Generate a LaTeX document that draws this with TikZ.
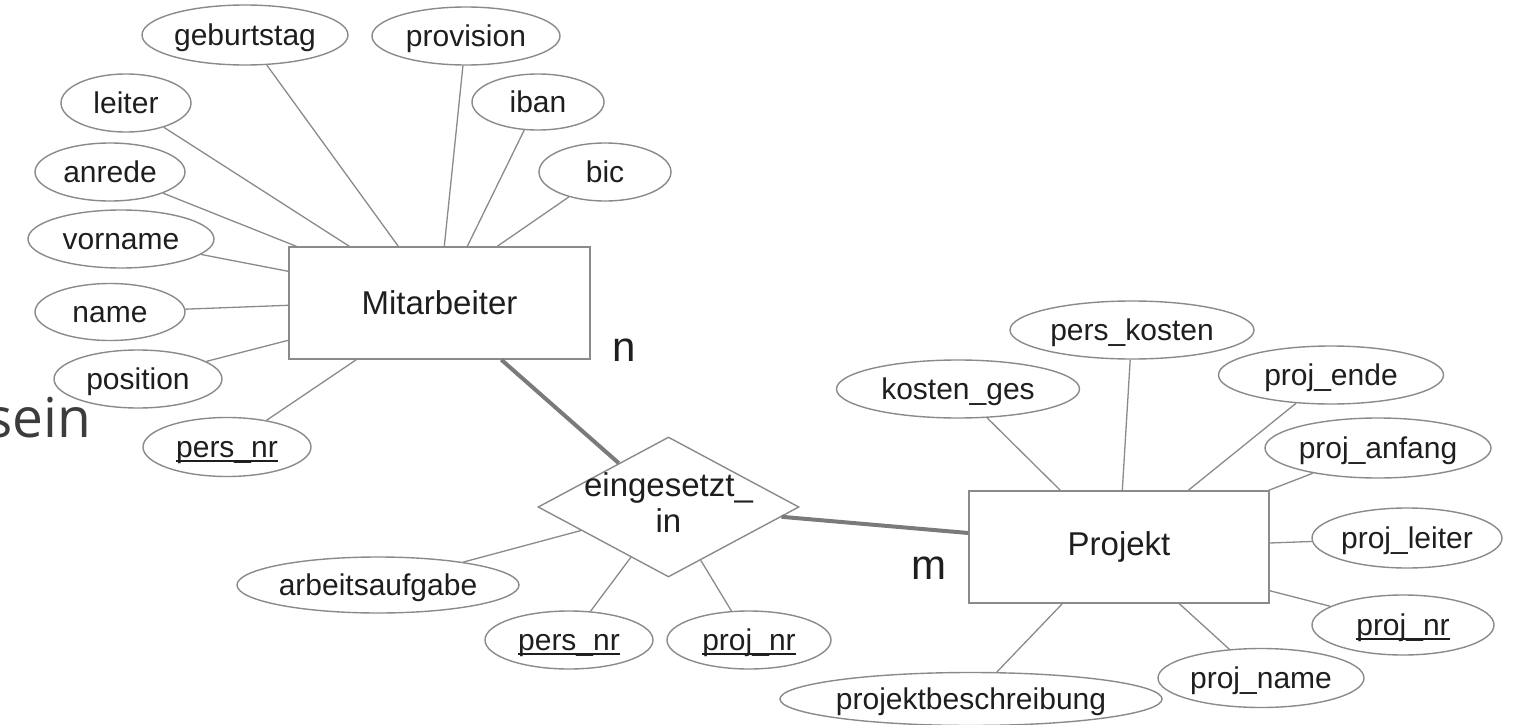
\documentclass[tikz,border=0pt]{standalone}
\usepackage{fontspec}
\setmainfont{Liberation Sans}
\newfontfamily\seinfont{Open Sans}
\usetikzlibrary{shapes.geometric,calc}
\definecolor{edgegray}{HTML}{8A8A8A}
\definecolor{heavygray}{HTML}{7A7A7A}
\definecolor{txt}{HTML}{1E1E1E}
\definecolor{seingray}{HTML}{3C3C3C}
\newcommand{\keyattr}[1]{\setbox0=\hbox{#1}\rlap{\rule[-0.15em]{\wd0}{1.4pt}}\box0}
\tikzset{
  attr/.style={ellipse, draw=edgegray, line width=1.4pt, inner sep=0pt, text=txt,
    text height=26pt, text depth=5.5pt, font=\fontsize{30}{36}\selectfont},
  esize/.style 2 args={minimum width=#1pt, minimum height=#2pt},
  ent/.style={rectangle, draw=edgegray, line width=1.4pt, inner sep=0pt, text=txt,
    minimum height=112pt, font=\fontsize{33}{40}\selectfont},
  rel/.style={diamond, draw=edgegray, line width=1.4pt, inner sep=0pt, text=txt,
    minimum width=261pt, minimum height=140pt, font=\fontsize{33}{36}\selectfont},
  conn/.style={draw=edgegray, line width=1.3pt},
  heavy/.style={draw=heavygray, line width=4pt},
  card/.style={text=txt, inner sep=0pt, font=\fontsize{42}{50}\selectfont}
}
\begin{document}
\begin{tikzpicture}[x=1pt,y=-1pt]
\useasboundingbox (0,0) rectangle (1516,725);

% side text (cut at the left edge, as in the reference)
\node[anchor=base east, inner sep=0pt, text=seingray, font=\seinfont\fontsize{55}{66}\selectfont] (sein) at (91,437) {sein};

% entities and relationship
\node[ent, minimum width=301pt] (M) at (439.5,303) {Mitarbeiter};
\node[ent, minimum width=300pt] (P) at (1119,547) {Projekt};
\node[rel] (D) at (668.5,507) {\makebox[0pt]{\begin{tabular}{@{}c@{}}eingesetzt\_\\in\end{tabular}}};

% cardinalities
\node[card] (n) at (624,350) {n};
\node[card] (m) at (929,568) {m};

% Mitarbeiter attributes
\node[attr, esize={206}{60}] (geb) at (245,35) {geburtstag};
\node[attr, esize={188}{58}] (prov) at (466,36) {provision};
\node[attr, esize={130}{58}] (leiter) at (126,103) {leiter};
\node[attr, esize={132}{56}] (iban) at (538,102) {iban};
\node[attr, esize={150}{58}] (anrede) at (110,172) {anrede};
\node[attr, esize={132}{58}] (bic) at (605,172) {bic};
\node[attr, esize={186}{58}] (vorname) at (121,239) {vorname};
\node[attr, esize={150}{57}] (name) at (110,312) {name};
\node[attr, esize={168}{58}] (position) at (138,379) {position};
\node[attr, esize={168}{59}] (persA) at (227,447) {\keyattr{pers\_nr}};

% relationship attributes
\node[attr, esize={282}{56}] (arb) at (378,585) {arbeitsaufgabe};
\node[attr, esize={168}{58}] (persB) at (569,640) {\keyattr{pers\_nr}};
\node[attr, esize={164}{58}] (projB) at (749,640) {\keyattr{proj\_nr}};

% Projekt attributes
\node[attr, esize={244}{58}] (pk) at (1132,330) {pers\_kosten};
\node[attr, esize={243}{58}] (kg) at (958,389) {kosten\_ges};
\node[attr, esize={225}{58}] (pe) at (1331,375) {proj\_ende};
\node[attr, esize={226}{60}] (pa) at (1378,448) {proj\_anfang};
\node[attr, esize={190}{60}] (pl) at (1407,538) {proj\_leiter};
\node[attr, esize={182}{60}] (pn) at (1403,625) {\keyattr{proj\_nr}};
\node[attr, esize={206}{59}] (pname) at (1261,678) {proj\_name};
\node[attr, esize={378}{53}] (pb) at (971,699) {projektbeschreibung};

% Mitarbeiter connectors
\draw[conn] (anrede) -- ([xshift=8pt]M.north west);
\draw[conn] (leiter) -- ([xshift=61pt]M.north west);
\draw[conn] (geb) -- ([xshift=110pt]M.north west);
\draw[conn] (prov) -- ([xshift=156pt]M.north west);
\draw[conn] (iban) -- ([xshift=179pt]M.north west);
\draw[conn] (bic) -- ([xshift=209pt]M.north west);
\draw[conn] (vorname) -- ([yshift=-25pt]M.north west);
\draw[conn] (name) -- ([yshift=-59pt]M.north west);
\draw[conn] (position) -- ([yshift=-94pt]M.north west);
\draw[conn] (persA) -- ([xshift=68pt]M.south west);

% relationship connectors
\draw[heavy] ([xshift=213pt]M.south west) -- (D);
\draw[heavy] (D) -- ([yshift=14pt]P.west);
\draw[conn] (arb) -- (D);
\draw[conn] (persB) -- (D);
\draw[conn] (projB) -- (D);

% Projekt connectors
\draw[conn] (kg) -- ([xshift=92pt]P.north west);
\draw[conn] (pk) -- ([xshift=154pt]P.north west);
\draw[conn] (pe) -- ([xshift=220pt]P.north west);
\draw[conn] (pa) -- ([xshift=-1pt]P.north east);
\draw[conn] (pl) -- ([yshift=4pt]P.east);
\draw[conn] (pn) -- ([yshift=13pt]P.south east);
\draw[conn] (pname) -- ([xshift=211pt]P.south west);
\draw[conn] (pb) -- ([xshift=94pt]P.south west);
\end{tikzpicture}
\end{document}
